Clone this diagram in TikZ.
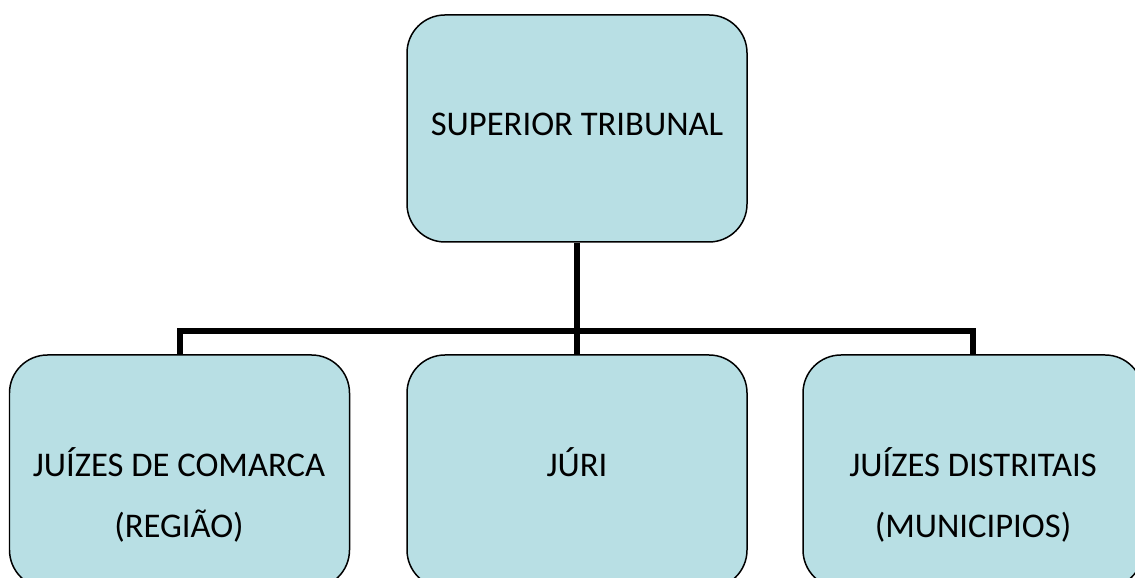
\documentclass[tikz,border=0pt]{standalone}
\usepackage{fontspec}
\setmainfont{Carlito}
\usepackage{xcolor}
\usetikzlibrary{positioning}

\definecolor{boxfill}{HTML}{B8DFE4}

\tikzset{
    box/.style={draw=black, line width=0.85pt, fill=boxfill, rounded corners=0.76cm,
        minimum width=6.8cm, inner sep=0pt},
    conn/.style={draw=black, line width=0.12cm},
    lbl/.style={anchor=base, inner sep=0pt, font=\fontsize{19.7}{23}\selectfont}
}

\begin{document}
\begin{tikzpicture}

        \useasboundingbox (0,0) rectangle (22.7,11.56);
        \clip (0,0) rectangle (22.7,11.56);

        \node[box, minimum height=4.54cm] (superior) at (11.54,8.99) {};
        \node[box, minimum height=4.66cm] (comarca) at (3.59,2.13) {};
        \node[box, minimum height=4.66cm] (juri) at (11.54,2.13) {};
        \node[box, minimum height=4.66cm] (distritais) at (19.46,2.13) {};

        \coordinate (bar) at (11.54,4.94);
        \draw[conn] (superior.south) -- (juri.north);
        \draw[conn] (comarca.north) |- (bar) -| (distritais.north);

        \node[lbl] (superiorTxt) at (11.54,8.84) {SUPERIOR TRIBUNAL};
        \node[lbl] (comarcaTxt) at (3.58,2.02) {JUÍZES DE COMARCA};
        \node[lbl] (regiaoTxt) at (3.58,0.80) {(REGIÃO)};
        \node[lbl] (juriTxt) at (11.54,2.02) {JÚRI};
        \node[lbl] (distritaisTxt) at (19.46,2.02) {JUÍZES DISTRITAIS};
        \node[lbl] (municipiosTxt) at (19.46,0.80) {(MUNICIPIOS)};

    \end{tikzpicture}
\end{document}
